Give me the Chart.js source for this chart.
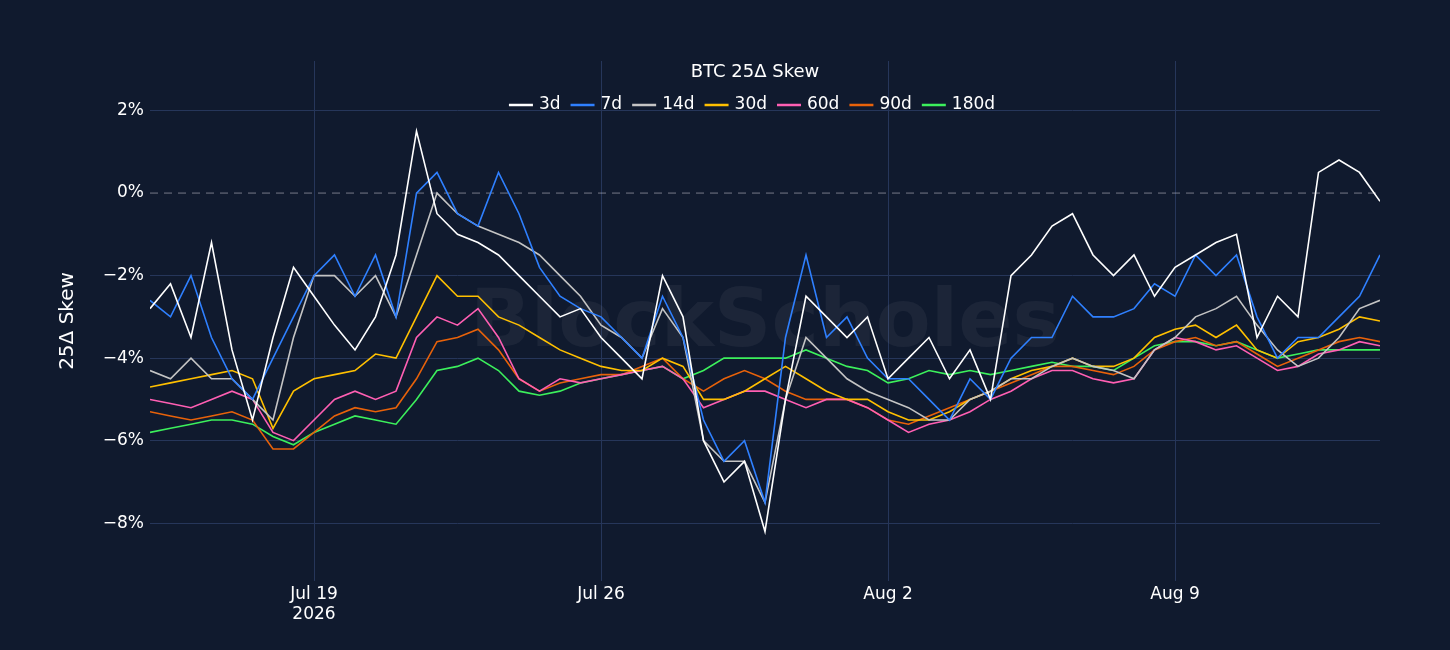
<!DOCTYPE html>
<html><head><meta charset="utf-8">
<script src="https://cdn.jsdelivr.net/npm/chart.js@4"></script>
<style>html,body{margin:0;background:#101a2e;}#wrap{width:1450px;height:650px;}</style>
</head><body><div id="wrap"><canvas id="c"></canvas></div>
<script>
// days since Jul 15 2026, 12h steps
const days = Array.from({length:61},(_,i)=>i*0.5);
const tickDays = [4,11,18,25];
const tickLabels = [['Jul 19','2026'],'Jul 26','Aug 2','Aug 9'];
const yTicks = [-8,-6,-4,-2,0,2];
const seriesNames = ['3d','7d','14d','30d','60d','90d','180d'];
const s3d = [-2.8,-2.2,-3.5,-1.2,-3.8,-5.5,-3.5,-1.8,-2.5,-3.2,-3.8,-3.0,-1.5,1.5,-0.5,-1.0,-1.2,-1.5,-2.0,-2.5,-3.0,-2.8,-3.5,-4.0,-4.5,-2.0,-3.0,-6.0,-7.0,-6.5,-8.2,-5.0,-2.5,-3.0,-3.5,-3.0,-4.5,-4.0,-3.5,-4.5,-3.8,-5.0,-2.0,-1.5,-0.8,-0.5,-1.5,-2.0,-1.5,-2.5,-1.8,-1.5,-1.2,-1.0,-3.5,-2.5,-3.0,0.5,0.8,0.5,-0.2];
const s7d = [-2.6,-3.0,-2.0,-3.5,-4.5,-5.0,-4.0,-3.0,-2.0,-1.5,-2.5,-1.5,-3.0,0.0,0.5,-0.5,-0.8,0.5,-0.5,-1.8,-2.5,-2.8,-3.0,-3.5,-4.0,-2.5,-3.5,-5.5,-6.5,-6.0,-7.5,-3.5,-1.5,-3.5,-3.0,-4.0,-4.5,-4.5,-5.0,-5.5,-4.5,-5.0,-4.0,-3.5,-3.5,-2.5,-3.0,-3.0,-2.8,-2.2,-2.5,-1.5,-2.0,-1.5,-3.0,-4.0,-3.5,-3.5,-3.0,-2.5,-1.5];
const s14d = [-4.3,-4.5,-4.0,-4.5,-4.5,-5.0,-5.5,-3.5,-2.0,-2.0,-2.5,-2.0,-3.0,-1.5,0.0,-0.5,-0.8,-1.0,-1.2,-1.5,-2.0,-2.5,-3.2,-3.5,-4.0,-2.8,-3.5,-6.0,-6.5,-6.5,-7.5,-5.0,-3.5,-4.0,-4.5,-4.8,-5.0,-5.2,-5.5,-5.5,-5.0,-4.8,-4.5,-4.5,-4.2,-4.0,-4.2,-4.3,-4.5,-3.8,-3.5,-3.0,-2.8,-2.5,-3.2,-3.8,-4.2,-4.0,-3.5,-2.8,-2.6];
const s30d = [-4.7,-4.6,-4.5,-4.4,-4.3,-4.5,-5.7,-4.8,-4.5,-4.4,-4.3,-3.9,-4.0,-3.0,-2.0,-2.5,-2.5,-3.0,-3.2,-3.5,-3.8,-4.0,-4.2,-4.3,-4.3,-4.0,-4.2,-5.0,-5.0,-4.8,-4.5,-4.2,-4.5,-4.8,-5.0,-5.0,-5.3,-5.5,-5.5,-5.3,-5.0,-4.8,-4.5,-4.3,-4.2,-4.0,-4.2,-4.2,-4.0,-3.5,-3.3,-3.2,-3.5,-3.2,-3.8,-4.0,-3.6,-3.5,-3.3,-3.0,-3.1];
const s60d = [-5.0,-5.1,-5.2,-5.0,-4.8,-5.0,-5.8,-6.0,-5.5,-5.0,-4.8,-5.0,-4.8,-3.5,-3.0,-3.2,-2.8,-3.5,-4.5,-4.8,-4.5,-4.6,-4.5,-4.4,-4.3,-4.2,-4.5,-5.2,-5.0,-4.8,-4.8,-5.0,-5.2,-5.0,-5.0,-5.2,-5.5,-5.8,-5.6,-5.5,-5.3,-5.0,-4.8,-4.5,-4.3,-4.3,-4.5,-4.6,-4.5,-3.8,-3.5,-3.6,-3.8,-3.7,-4.0,-4.3,-4.2,-3.9,-3.8,-3.6,-3.7];
const s90d = [-5.3,-5.4,-5.5,-5.4,-5.3,-5.5,-6.2,-6.2,-5.8,-5.4,-5.2,-5.3,-5.2,-4.5,-3.6,-3.5,-3.3,-3.8,-4.5,-4.8,-4.6,-4.5,-4.4,-4.4,-4.2,-4.0,-4.5,-4.8,-4.5,-4.3,-4.5,-4.8,-5.0,-5.0,-5.0,-5.2,-5.5,-5.6,-5.4,-5.2,-5.0,-4.8,-4.6,-4.4,-4.2,-4.2,-4.3,-4.4,-4.2,-3.8,-3.6,-3.5,-3.7,-3.6,-3.9,-4.2,-4.0,-3.8,-3.6,-3.5,-3.6];
const s180d = [-5.8,-5.7,-5.6,-5.5,-5.5,-5.6,-5.9,-6.1,-5.8,-5.6,-5.4,-5.5,-5.6,-5.0,-4.3,-4.2,-4.0,-4.3,-4.8,-4.9,-4.8,-4.6,-4.5,-4.4,-4.3,-4.2,-4.5,-4.3,-4.0,-4.0,-4.0,-4.0,-3.8,-4.0,-4.2,-4.3,-4.6,-4.5,-4.3,-4.4,-4.3,-4.4,-4.3,-4.2,-4.1,-4.2,-4.2,-4.3,-4.0,-3.7,-3.6,-3.6,-3.7,-3.6,-3.8,-4.0,-3.9,-3.8,-3.8,-3.8,-3.8];
const seriesData = [s3d,s7d,s14d,s30d,s60d,s90d,s180d];
const colors = ['#ffffff','#2f80ff','#c4c4c4','#ffc000','#ff5fb3','#e8620a','#3cf05c'];
const FONT = '"DejaVu Sans", Verdana, sans-serif';

const overlay = {
  id:'overlay',
  beforeDatasetsDraw(ch){
    const {ctx,chartArea:a,scales:{y}}=ch;
    ctx.save();
    ctx.font='bold 80px '+FONT;ctx.fillStyle='rgba(255,255,255,0.05)';
    ctx.textAlign='center';ctx.textBaseline='middle';
    ctx.fillText('BlockScholes',(a.left+a.right)/2,325);
    const z=y.getPixelForValue(0);
    ctx.strokeStyle='rgba(200,200,210,0.55)';ctx.setLineDash([8,6]);ctx.lineWidth=1;
    ctx.beginPath();ctx.moveTo(a.left,z);ctx.lineTo(a.right,z);ctx.stroke();
    ctx.restore();
  },
  afterDraw(ch){
    const {ctx,chartArea:a}=ch;
    ctx.save();
    ctx.fillStyle='#ffffff';ctx.textBaseline='middle';ctx.textAlign='center';
    ctx.font='18px '+FONT;
    const cx=(a.left+a.right)/2-10;
    ctx.fillText('BTC 25\u0394 Skew',cx,72);
    ctx.font='17px '+FONT;
    const items=seriesNames.map(n=>({n,w:30+ctx.measureText(n).width+10}));
    const tot=items.reduce((s,i)=>s+i.w,0);
    let x=cx-tot/2+2;
    ctx.textAlign='left';ctx.lineWidth=2.5;
    items.forEach((it,i)=>{
      ctx.strokeStyle=colors[i];ctx.beginPath();ctx.moveTo(x,105);ctx.lineTo(x+24,105);ctx.stroke();
      ctx.fillText(it.n,x+30,105);x+=it.w;
    });
    ctx.restore();
  }
};

new Chart(document.getElementById('c'),{
  type:'line',
  data:{datasets:seriesNames.map((n,i)=>({label:n,data:days.map((d,j)=>({x:d,y:seriesData[i][j]})),
    borderColor:colors[i],borderWidth:1.6,pointRadius:0,tension:0,fill:false}))},
  options:{
    responsive:true,maintainAspectRatio:false,animation:false,
    layout:{padding:{left:52,right:70,top:61,bottom:0}},
    plugins:{legend:{display:false},title:{display:false},tooltip:{enabled:false}},
    scales:{
      x:{type:'linear',min:0,max:30,
        afterBuildTicks(s){s.ticks=tickDays.map(v=>({value:v}));},
        afterFit(s){s.height=69;},
        ticks:{color:'#ffffff',font:{size:17,family:FONT},maxRotation:0,
          callback:(v)=>tickLabels[tickDays.indexOf(v)]},
        grid:{color:'#26365a',drawTicks:false},border:{display:false}},
      y:{min:-9.4,max:3.2,
        afterBuildTicks(s){s.ticks=yTicks.map(v=>({value:v}));},
        afterFit(s){s.width=98;},
        ticks:{color:'#ffffff',font:{size:17,family:FONT},padding:6,
          callback:(v)=>(v<0?'\u2212'+(-v):v)+'%'},
        grid:{color:(c)=>c.tick&&c.tick.value===0?'rgba(0,0,0,0)':'#26365a',drawTicks:false},
        border:{display:false},
        title:{display:true,text:'25\u0394 Skew',color:'#ffffff',font:{size:20,family:FONT},padding:{bottom:4}}}
    }
  },
  plugins:[overlay]
});
</script></body></html>
